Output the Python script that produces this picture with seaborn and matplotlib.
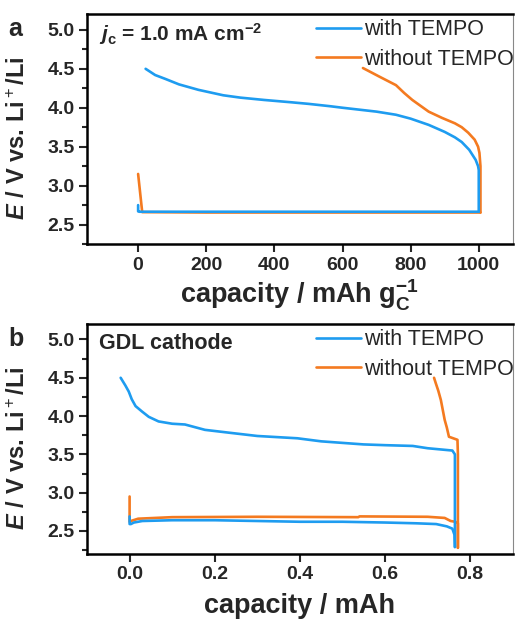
import matplotlib
matplotlib.use("Agg")
import matplotlib.pyplot as plt
import seaborn as sns
import pandas as pd
from matplotlib.ticker import MultipleLocator, FormatStrFormatter

# panel a: capacity in mAh/g_C, potential in V
a_with_dis_x = [0, 0, 3, 100, 300, 500, 700, 900, 1000]
a_with_dis_y = [2.75, 2.67, 2.665, 2.665, 2.665, 2.665, 2.665, 2.665, 2.665]
a_with_chg_x = [1000, 1000, 998, 991, 972, 950, 930, 900, 853, 800, 757, 700, 660,
                600, 563, 500, 450, 370, 300, 250, 177, 120, 80, 50, 22]
a_with_chg_y = [2.665, 3.2, 3.25, 3.33, 3.46, 3.56, 3.62, 3.69, 3.78, 3.86, 3.91, 3.95, 3.97,
                4.0, 4.02, 4.05, 4.07, 4.1, 4.13, 4.16, 4.23, 4.3, 4.37, 4.42, 4.5]
a_wo_dis_x = [0, 12, 200, 600, 1000, 1005]
a_wo_dis_y = [3.15, 2.66, 2.655, 2.655, 2.655, 2.655]
a_wo_chg_x = [1005, 1005, 1002, 998, 988, 969, 950, 930, 892, 853, 805, 781, 757, 708, 660]
a_wo_chg_y = [2.655, 3.25, 3.42, 3.5, 3.59, 3.68, 3.75, 3.8, 3.87, 3.95, 4.1, 4.19, 4.29, 4.4, 4.51]

# panel b: capacity in mAh
b_with_dis_x = [0, 0, 0.003, 0.01, 0.03, 0.1, 0.2, 0.3, 0.4, 0.5, 0.6, 0.673, 0.72, 0.745,
                0.758, 0.763, 0.764]
b_with_dis_y = [2.69, 2.59, 2.59, 2.61, 2.63, 2.64, 2.64, 2.63, 2.62, 2.62, 2.61, 2.6, 2.59, 2.56,
                2.53, 2.45, 2.29]
b_with_chg_x = [0.764, 0.764, 0.758, 0.7, 0.665, 0.6, 0.549, 0.45, 0.394, 0.3, 0.238, 0.177,
                0.13, 0.1, 0.068, 0.045, 0.029, 0.014, 0.005, -0.002, -0.01, -0.021]
b_with_chg_y = [2.29, 3.5, 3.55, 3.58, 3.61, 3.62, 3.63, 3.67, 3.71, 3.74, 3.78, 3.82,
                3.89, 3.9, 3.93, 3.99, 4.06, 4.13, 4.22, 4.32, 4.4, 4.5]
b_wo_dis_x = [0, 0, 0.003, 0.02, 0.1, 0.3, 0.537, 0.54, 0.7, 0.74, 0.754, 0.765, 0.771, 0.771]
b_wo_dis_y = [2.95, 2.62, 2.63, 2.66, 2.68, 2.685, 2.68, 2.69, 2.685, 2.67, 2.63, 2.62, 2.6, 2.28]
b_wo_chg_x = [0.771, 0.771, 0.770, 0.760, 0.750, 0.745, 0.740, 0.731, 0.725, 0.719, 0.715]
b_wo_chg_y = [2.28, 3.5, 3.69, 3.71, 3.73, 3.85, 3.95, 4.21, 4.33, 4.43, 4.5]

labels = ["with TEMPO", "without TEMPO"]
blue = "#1e9cf0"
orange = "#f47a20"

sns.set_style("ticks")
plt.rcParams["font.family"] = ["Liberation Sans", "DejaVu Sans"]
plt.rcParams["mathtext.fontset"] = "custom"
plt.rcParams["mathtext.rm"] = "Liberation Sans"
plt.rcParams["mathtext.bf"] = "Liberation Sans:bold"
plt.rcParams["mathtext.it"] = "Liberation Sans:italic:bold"
plt.rcParams["mathtext.sf"] = "Liberation Sans"

fig = plt.figure(figsize=(5.18, 6.21), dpi=100)
ax_a = fig.add_axes([0.168, 0.607, 0.822, 0.370])
ax_b = fig.add_axes([0.168, 0.108, 0.822, 0.370])

def curve(ax, x, y, color):
    df = pd.DataFrame({"x": x, "y": y})
    sns.lineplot(data=df, x="x", y="y", sort=False, estimator=None, color=color,
                 lw=1.9, ax=ax)

curve(ax_a, a_wo_dis_x, a_wo_dis_y, orange)
curve(ax_a, a_wo_chg_x, a_wo_chg_y, orange)
curve(ax_a, a_with_dis_x, a_with_dis_y, blue)
curve(ax_a, a_with_chg_x, a_with_chg_y, blue)

curve(ax_b, b_wo_dis_x, b_wo_dis_y, orange)
curve(ax_b, b_wo_chg_x, b_wo_chg_y, orange)
curve(ax_b, b_with_dis_x, b_with_dis_y, blue)
curve(ax_b, b_with_chg_x, b_with_chg_y, blue)

ax_a.set_xlim(-150, 1100)
ax_a.set_ylim(2.25, 5.2)
ax_a.xaxis.set_major_locator(MultipleLocator(200))
ax_b.set_xlim(-0.1, 0.9)
ax_b.set_ylim(2.2, 5.2)
ax_b.xaxis.set_major_locator(MultipleLocator(0.2))
ax_b.xaxis.set_major_formatter(FormatStrFormatter("%.1f"))

ax_a.set_xlabel(r"capacity / mAh g$_\mathbf{C}^\mathbf{-1}$", fontsize=19.5,
                fontweight="bold", labelpad=3)
ax_b.set_xlabel("capacity / mAh", fontsize=19.5, fontweight="bold", labelpad=7)

for ax, letter in [(ax_a, "a"), (ax_b, "b")]:
    ax.yaxis.set_major_locator(MultipleLocator(0.5))
    ax.yaxis.set_minor_locator(MultipleLocator(0.25))
    ax.yaxis.set_major_formatter(FormatStrFormatter("%.1f"))
    ax.set_ylabel(r"$E\mathbf{\ /\ V}$ vs. Li$^+$/Li", fontsize=17, fontweight="bold")
    ax.yaxis.set_label_coords(-0.135, 0.46)
    ax.tick_params(axis="both", which="major", direction="out", length=6, width=1.5,
                   labelsize=14, pad=3)
    ax.tick_params(axis="y", which="minor", direction="out", length=3.5, width=1.5)
    for t in ax.get_xticklabels() + ax.get_yticklabels():
        t.set_fontweight("bold")
    for side in ["left", "bottom", "top"]:
        ax.spines[side].set_linewidth(1.8)
        ax.spines[side].set_color("black")
    ax.spines["right"].set_linewidth(0.8)
    ax.spines["right"].set_color("#888888")
    handles = [plt.Line2D([], [], color=blue, lw=1.9), plt.Line2D([], [], color=orange, lw=1.9)]
    ax.legend(handles, labels, loc="upper right", bbox_to_anchor=(1.003, 0.978), frameon=False,
              fontsize=15.5, handlelength=2.1, handletextpad=0.15, labelspacing=0.4,
              borderpad=0, borderaxespad=0)
    ax.text(-0.184, 0.935, letter, transform=ax.transAxes, fontsize=18, fontweight="bold",
            ha="left", va="center")

ax_a.text(0.028, 0.915, r"$j_\mathbf{c}$ = 1.0 mA cm$^\mathbf{-2}$", transform=ax_a.transAxes,
          fontsize=15, fontweight="bold", ha="left", va="center")
ax_b.text(0.028, 0.915, "GDL cathode", transform=ax_b.transAxes,
          fontsize=15.5, fontweight="bold", ha="left", va="center")

fig.savefig("out.png", dpi=100)
